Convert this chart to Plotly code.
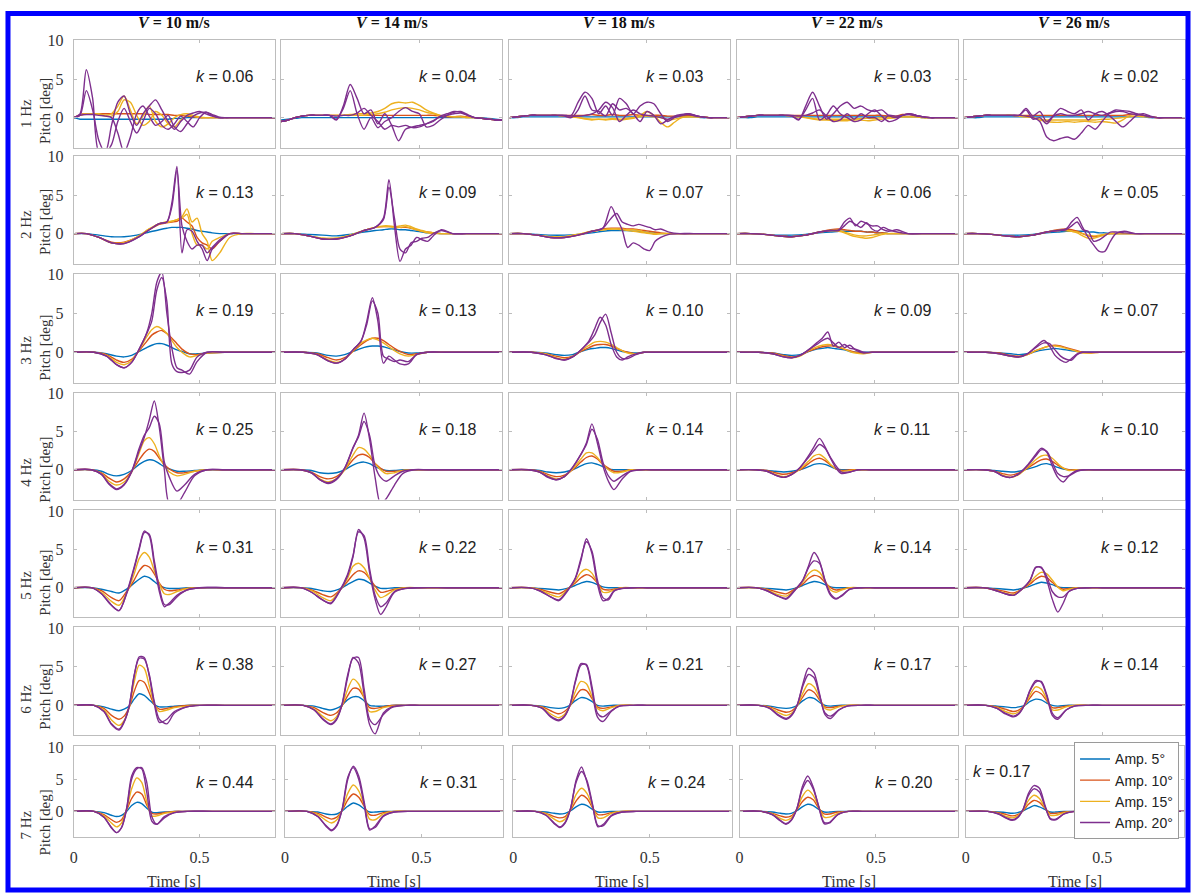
import plotly.graph_objects as go

# ---------------- data ----------------
velocities = ["10", "14", "18", "22", "26"]
frequencies = ["1 Hz", "2 Hz", "3 Hz", "4 Hz", "5 Hz", "6 Hz", "7 Hz"]
k_values = [
    ["0.06", "0.04", "0.03", "0.03", "0.02"],
    ["0.13", "0.09", "0.07", "0.06", "0.05"],
    ["0.19", "0.13", "0.10", "0.09", "0.07"],
    ["0.25", "0.18", "0.14", "0.11", "0.10"],
    ["0.31", "0.22", "0.17", "0.14", "0.12"],
    ["0.38", "0.27", "0.21", "0.17", "0.14"],
    ["0.44", "0.31", "0.24", "0.20", "0.17"],
]
x_tick_vals = [0, 0.5]
x_tick_text = ["0", "0.5"]
y_tick_vals = [0, 5, 10]
y_tick_text = ["0", "5", "10"]

# time grids [s] for each frequency row
T1 = [0, 0.025, 0.05, 0.075, 0.1, 0.125, 0.15, 0.175, 0.2, 0.225, 0.25, 0.275, 0.3, 0.325, 0.35, 0.375, 0.4,
      0.425, 0.45, 0.475, 0.5, 0.525, 0.55, 0.575, 0.6, 0.625, 0.65, 0.675, 0.7, 0.725, 0.75, 0.775, 0.8]
T2 = [0, 0.05, 0.1, 0.15, 0.2, 0.25, 0.3, 0.34, 0.37, 0.39, 0.41, 0.43, 0.45, 0.47, 0.49, 0.51, 0.53, 0.55,
      0.58, 0.62, 0.67, 0.72, 0.8]
T3 = [0, 0.08, 0.13, 0.17, 0.2, 0.23, 0.26, 0.29, 0.31, 0.33, 0.35, 0.37, 0.39, 0.41, 0.43, 0.46, 0.49, 0.53, 0.6, 0.8]
T4 = [0, 0.07, 0.11, 0.14, 0.17, 0.2, 0.23, 0.26, 0.28, 0.3, 0.32, 0.34, 0.36, 0.38, 0.41, 0.44, 0.48, 0.53, 0.6, 0.8]
T5 = [0, 0.07, 0.11, 0.15, 0.18, 0.21, 0.24, 0.26, 0.28, 0.3, 0.32, 0.34, 0.36, 0.38, 0.41, 0.45, 0.5, 0.6, 0.8]
T6 = [0, 0.08, 0.12, 0.15, 0.18, 0.2, 0.22, 0.24, 0.26, 0.28, 0.3, 0.32, 0.34, 0.37, 0.4, 0.45, 0.5, 0.6, 0.8]
T7 = [0, 0.08, 0.12, 0.15, 0.17, 0.19, 0.21, 0.23, 0.25, 0.27, 0.29, 0.31, 0.33, 0.36, 0.4, 0.45, 0.55, 0.8]

# ---- 1 Hz (one list per velocity column) ----
r1_amp5 = [
    [0, -0.2, -0.2, -0.2, -0.2, -0.2, -0.2, -0.2, -0.2, -0.2, -0.2, -0.2, -0.2, -0.2, -0.2, -0.2, -0.1, -0.1, 0, 0, 0, 0, 0, 0, 0, 0, 0, 0, 0, 0, 0, 0, 0],
    [-0.3, -0.2, -0.1, 0, 0, 0, 0, 0, 0, 0, 0, 0, 0, 0, 0, 0, 0, 0, 0, 0, 0, 0, 0, 0, 0, 0, 0, 0, 0, 0, -0.1, -0.2, -0.3],
    [0, 0, 0.1, 0.1, 0.1, 0.1, 0.1, 0.1, 0.1, 0.1, 0.1, 0.1, 0.1, 0.1, 0.1, 0.1, 0.1, 0.1, 0.1, 0.1, 0.1, 0.1, 0.1, 0.1, 0.1, 0.1, 0.1, 0.1, 0, 0, 0, 0, 0],
    [0, 0, 0, 0.1, 0.1, 0.1, 0.1, 0.1, 0.1, 0.1, 0.1, 0.1, 0.1, 0.1, 0.1, 0.1, 0.1, 0.1, 0.1, 0.1, 0.1, 0.1, 0.1, 0.1, 0.1, 0.1, 0.1, 0, 0, 0, 0, 0, 0],
    [0, 0, 0, 0.1, 0.1, 0.1, 0.1, 0.1, 0.1, 0.1, 0.1, 0.1, 0.1, 0.1, 0.1, 0.1, 0.1, 0.1, 0.1, 0.1, 0.1, 0.1, 0.1, 0.1, 0.1, 0.1, 0.1, 0, 0, 0, 0, 0, 0],
]
r1_amp10 = [
    [0, 0.4, 0.5, 0.5, 0.5, 0.5, 0.5, 0.5, 0.5, 0.5, 0.5, 0.5, 0.4, 0.4, 0.4, 0.4, 0.3, 0.3, 0.2, 0.1, 0, 0, 0, 0, 0, 0, 0, 0, 0, 0, 0, 0, 0],
    [-0.5, -0.3, 0, 0.2, 0.3, 0.3, 0.3, 0.3, 0.3, 0.3, 0.3, 0.3, 0.3, 0.3, 0.3, 0.3, 0.3, 0.3, 0.3, 0.3, 0.3, 0.3, 0.3, 0.2, 0.1, 0.1, 0.2, 0.1, 0, -0.1, -0.2, -0.3, -0.3],
    [0, 0.1, 0.2, 0.3, 0.3, 0.3, 0.3, 0.3, 0.3, 0.3, 0.3, 0.3, 0.4, 0.3, 0.3, 0.4, 0.3, 0.3, 0.4, 0.3, 0.3, 0.3, 0.3, 0.2, 0.2, 0.2, 0.3, 0.2, 0.1, 0, 0, 0, 0],
    [0, 0.1, 0.2, 0.3, 0.3, 0.3, 0.3, 0.3, 0.3, 0.3, 0.3, 0.3, 0.3, 0.3, 0.3, 0.3, 0.3, 0.3, 0.3, 0.3, 0.3, 0.3, 0.2, 0.2, 0.4, 0.4, 0.2, 0.1, 0, 0, 0, 0, 0],
    [0, 0.1, 0.2, 0.3, 0.3, 0.3, 0.3, 0.3, 0.3, 0.3, 0.3, 0.3, 0.3, 0.3, 0.3, 0.3, 0.3, 0.3, 0.3, 0.3, 0.3, 0.3, 0.3, 0.3, 0.4, 0.4, 0.3, 0.1, 0, 0, 0, 0, 0],
]
r1_amp15a = [
    [0, 0.3, 0.5, 0.5, 0.5, 0.3, 0.5, 1.5, 2.8, 1.0, -0.8, 0.2, 1.5, -0.5, -1.2, -0.8, 0, 0.4, 0.5, 0.3, 0.1, 0, 0, 0, 0, 0, 0, 0, 0, 0, 0, 0, 0],
    [-0.5, -0.3, 0, 0.2, 0.3, 0.3, 0.3, 0.3, 0.3, 0.3, 0.4, 0.5, 0.5, 0.6, 0.8, 1.2, 1.8, 2.0, 1.9, 2.0, 1.6, 1.0, 0.6, 0.3, 0.2, 0.1, 0.1, 0, 0, -0.1, -0.2, -0.3, -0.3],
    [0, 0.1, 0.2, 0.3, 0.3, 0.3, 0.3, 0.3, 0.2, 0.1, 0, -0.2, -0.3, -0.2, -0.3, -0.2, -0.3, -0.2, -0.1, 0.3, 0.8, 0.3, -0.6, -1.2, -0.6, 0, 0.1, 0.1, 0.1, 0, 0, 0, 0],
    [0, 0.1, 0.2, 0.3, 0.3, 0.3, 0.3, 0.3, 0.2, 0.1, 0, -0.2, -0.3, -0.3, -0.4, -0.4, -0.4, -0.3, -0.3, -0.4, -0.3, -0.2, -0.1, 0, 0.1, 0.1, 0.1, 0, 0, 0, 0, 0, 0],
    [0, 0.1, 0.2, 0.3, 0.3, 0.3, 0.3, 0.3, 0.2, 0.1, 0, -0.3, -0.5, -0.6, -0.6, -0.5, -0.6, -0.5, -0.5, -0.6, -0.5, -0.6, -0.7, -0.3, 0.3, 0.4, 0.2, 0.1, 0, 0, 0, 0, 0],
]
r1_amp15b = [
    [0, 0.3, 0.5, 0.5, 0.4, 0.2, 0.2, 0.8, 2.3, 2.0, 0.3, -1.0, -0.5, 0.8, 0.3, -0.8, -1.2, -0.3, 0.3, 0.2, 0, 0, 0, 0, 0, 0, 0, 0, 0, 0, 0, 0, 0],
    [-0.5, -0.3, 0, 0.2, 0.3, 0.3, 0.3, 0.3, 0.3, 0.3, 0.3, 0.3, 0.3, 0.4, 0.5, 0.7, 1.0, 1.2, 1.3, 1.2, 1.0, 0.7, 0.5, 0.3, 0.2, 0.1, 0.1, 0, 0, -0.1, -0.2, -0.3, -0.3],
    [0, 0.1, 0.2, 0.3, 0.3, 0.3, 0.3, 0.3, 0.2, 0.1, 0, -0.1, -0.2, -0.2, -0.2, -0.1, -0.2, -0.1, 0, 0.1, 0.2, 0.1, 0, -0.3, -0.2, 0, 0.1, 0.1, 0.1, 0, 0, 0, 0],
    [0, 0.1, 0.2, 0.3, 0.3, 0.3, 0.3, 0.3, 0.2, 0.1, 0, -0.1, -0.2, -0.2, -0.2, -0.2, -0.2, -0.2, -0.1, -0.1, -0.1, 0, 0, 0, 0.1, 0.1, 0.1, 0, 0, 0, 0, 0, 0],
    [0, 0.1, 0.2, 0.3, 0.3, 0.3, 0.3, 0.3, 0.2, 0.1, 0, -0.2, -0.3, -0.3, -0.3, -0.3, -0.3, -0.3, -0.3, -0.3, -0.2, -0.2, -0.1, 0, 0.1, 0.2, 0.1, 0.1, 0, 0, 0, 0, 0],
]
r1_amp20a = [
    [0, 0.5, 6.2, 2.5, -4.5, -4.5, -1.0, 2.0, 2.8, 0.5, -1.0, 0.5, 1.5, 2.3, 1.0, -0.5, -1.5, -0.5, 0.3, 0.6, 0.8, 0.5, 0.2, 0, 0, 0, 0, 0, 0, 0, 0, 0, 0],
    [-0.5, -0.3, 0, 0.2, 0.3, 0.3, 0.3, 0.3, -0.3, 1.5, 4.3, 2.5, 0.5, 1.0, -0.8, 0.5, -1.0, -3.0, -1.5, -1.2, -1.0, -0.8, -0.5, 0.2, 0.5, 0.8, 0.7, 0.3, 0, -0.1, -0.2, -0.3, -0.3],
    [0, 0.1, 0.2, 0.3, 0.3, 0.3, 0.3, 0.3, 0.3, 0.3, 2.0, 3.3, 2.5, 0.5, 1.5, 0.3, 2.5, 1.8, 0.5, 1.5, 2.0, 1.8, 0.5, -0.5, 0, 0.3, 0.5, 0.3, 0.1, 0, 0, 0, 0],
    [0, 0.1, 0.2, 0.3, 0.3, 0.3, 0.3, 0.3, 0.2, -0.3, 1.5, 3.3, 1.5, -0.2, 0.5, 1.5, 2.0, 1.2, 1.5, 1.0, 0.8, 1.0, 0.3, 0, 0.3, 0.5, 0.3, 0.1, 0, 0, 0, 0, 0],
    [0, 0.1, 0.2, 0.3, 0.3, 0.3, 0.3, 0.3, 0.3, 0.2, 0, -0.5, -2.5, -3.0, -2.7, -2.5, -2.8, -2.0, -1.0, -1.5, -0.5, 0.5, 0.8, 0.8, 0.5, 0.4, 0.3, 0.1, 0, 0, 0, 0, 0],
]
r1_amp20b = [
    [0, 0.3, 3.5, 1.0, -3.0, -4.5, -3.5, -0.5, 1.2, -0.5, -2.0, -0.5, 1.2, 0.5, -1.0, -1.5, -0.8, 0.2, -0.5, -1.2, 0, 0.7, 0.4, 0.1, 0, 0, 0, 0, 0, 0, 0, 0, 0],
    [-0.5, -0.3, 0, 0.2, 0.3, 0.3, 0.3, 0.3, -0.2, 1.2, 3.5, 0.5, -1.5, 0, -1.3, -0.5, 0, 0.8, 1.3, 0.8, 0.5, -1.2, -1.0, -0.3, 0.3, 0.7, 0.8, 0.4, 0, -0.1, -0.2, -0.3, -0.3],
    [0, 0.1, 0.2, 0.3, 0.3, 0.3, 0.3, 0.3, 0.2, 0, 1.0, 2.8, 1.0, 0.8, 0.2, 1.8, 1.0, 1.2, 0.5, -0.5, 0.8, 0.3, -0.8, -0.3, 0.2, 0.4, 0.5, 0.3, 0.1, 0, 0, 0, 0],
    [0, 0.1, 0.2, 0.3, 0.3, 0.3, 0.3, 0.3, 0.2, -0.2, 1.0, 2.5, -0.3, 0.3, 1.5, 0.5, 0, -0.5, -0.3, 0.5, 1.0, 0.2, -0.5, -0.3, 0.3, 0.5, 0.3, 0.1, 0, 0, 0, 0, 0],
    [0, 0.1, 0.2, 0.3, 0.3, 0.3, 0.3, 0.3, 0.3, 1.2, 0.2, 0.8, -0.5, 0.3, 1.2, 0.8, 0.5, 1.0, -0.3, 0.5, 0.8, 0.3, -0.5, -1.2, -0.5, 0.3, 0.5, 0.2, 0, 0, 0, 0, 0],
]
r1_amp20c = [
    [0, 0.3, 0.4, 0.4, 0.3, 0.2, 0.0, -2.0, -4.5, -2.5, 0.5, 1.5, 0.2, -1.0, -0.5, 0.3, -1.2, -1.8, -0.8, 0.2, 0.6, 0.7, 0.3, 0, 0, 0, 0, 0, 0, 0, 0, 0, 0],
    [-0.5, -0.3, 0, 0.2, 0.3, 0.3, 0.3, 0.3, 0.2, 0.3, 0.3, 0.6, 1.2, 0.3, -0.5, -1.5, -1.0, -1.2, -1.0, -1.3, -1.2, -0.8, -0.4, 0.1, 0.3, 0.5, 0.6, 0.3, 0, -0.1, -0.2, -0.3, -0.3],
    [0, 0.1, 0.2, 0.3, 0.3, 0.3, 0.3, 0.3, 0.3, 0.2, 0.2, 0.3, 0.5, 1.0, 2.0, 1.3, -0.5, 0.3, 1.0, 0.5, 0.3, 0.2, 0, -0.2, 0.1, 0.3, 0.4, 0.2, 0.1, 0, 0, 0, 0],
    [0, 0.1, 0.2, 0.3, 0.3, 0.3, 0.3, 0.3, 0.3, 0.2, 0.3, 0.6, 1.0, 0.2, -0.5, -0.3, 0.5, -0.2, 0.5, 0, 0, -0.5, 0.3, 0.2, 0.3, 0.4, 0.2, 0.1, 0, 0, 0, 0, 0],
    [0, 0.1, 0.2, 0.3, 0.3, 0.3, 0.3, 0.3, 0.3, 1.0, -0.2, 0, -0.8, 0.2, 0.5, 0.3, 0.3, 0.5, 0.8, 0.5, 0.3, 0.6, 1.0, 0.9, 0.8, 0.5, 0.3, 0.1, 0, 0, 0, 0, 0],
]

# ---- 2 Hz ----
r2_amp5 = [
    [0, 0, -0.2, -0.4, -0.4, -0.2, 0.2, 0.5, 0.7, 0.8, 0.8, 0.8, 0.7, 0.6, 0.4, 0.3, 0.2, 0.1, 0, 0, 0, 0, 0],
    [0, 0, -0.1, -0.2, -0.3, -0.1, 0.2, 0.4, 0.5, 0.6, 0.6, 0.5, 0.5, 0.4, 0.3, 0.2, 0.1, 0.1, 0, 0, 0, 0, 0],
    [0, 0, -0.1, -0.2, -0.2, -0.1, 0.1, 0.3, 0.4, 0.4, 0.4, 0.4, 0.3, 0.3, 0.2, 0.1, 0.1, 0, 0, 0, 0, 0, 0],
    [0, 0, -0.1, -0.2, -0.2, -0.1, 0.1, 0.2, 0.3, 0.3, 0.3, 0.3, 0.3, 0.2, 0.2, 0.1, 0.1, 0, 0, 0, 0, 0, 0],
    [0, 0, -0.1, -0.2, -0.2, -0.1, 0.1, 0.2, 0.3, 0.3, 0.3, 0.3, 0.2, 0.2, 0.1, 0.1, 0, 0, 0, 0, 0, 0, 0],
]
r2_amp10 = [
    [0, 0, -0.5, -1.1, -1.1, -0.5, 0.5, 1.2, 1.4, 1.5, 1.6, 2.0, 1.5, 1.0, -0.5, -1.2, -1.5, -2.0, -1.0, 0, 0, 0, 0],
    [0, 0, -0.3, -0.7, -0.7, -0.3, 0.4, 0.8, 0.9, 0.9, 0.9, 0.8, 0.8, 0.7, 0.5, 0.3, 0.2, 0.1, 0, 0, 0, 0, 0],
    [0, 0, -0.2, -0.5, -0.5, -0.2, 0.3, 0.6, 0.7, 0.7, 0.7, 0.6, 0.6, 0.5, 0.4, 0.3, 0.2, 0.1, 0, 0, 0, 0, 0],
    [0, 0, -0.1, -0.3, -0.4, -0.2, 0.2, 0.5, 0.6, 0.5, 0.4, 0.3, 0.3, 0.2, 0.2, 0.1, 0.1, 0, 0, 0, 0, 0, 0],
    [0, 0, -0.1, -0.3, -0.4, -0.2, 0.2, 0.5, 0.6, 0.5, 0.3, 0, -0.3, -0.4, -0.3, -0.1, 0, 0, 0, 0, 0, 0, 0],
]
r2_amp15a = [
    [0, 0, -0.5, -1.2, -1.2, -0.5, 0.6, 1.3, 1.5, 1.6, 1.8, 2.2, 3.2, 1.5, 2.0, 0, -1.0, -3.5, -2.5, -0.5, 0, 0, 0],
    [0, 0, -0.3, -0.6, -0.6, -0.2, 0.4, 0.8, 1.0, 1.0, 0.9, 1.0, 1.1, 0.9, 0.6, 0.4, 0.2, 0.1, 0, 0, 0, 0, 0],
    [0, 0, -0.2, -0.4, -0.4, -0.1, 0.3, 0.5, 0.6, 0.6, 0.5, 0.4, 0.3, 0.2, 0.1, 0, -0.1, 0, 0, 0, 0, 0, 0],
    [0, 0, -0.1, -0.3, -0.4, -0.2, 0.2, 0.4, 0.3, 0.1, -0.2, -0.4, -0.5, -0.6, -0.5, -0.3, -0.1, 0, 0, 0, 0, 0, 0],
    [0, 0, -0.1, -0.3, -0.4, -0.2, 0.2, 0.4, 0.4, 0.3, 0.1, -0.3, -0.6, -0.6, -0.4, -0.2, 0, 0, 0, 0, 0, 0, 0],
]
r2_amp15b = [
    [0, 0, -0.5, -1.2, -1.2, -0.5, 0.6, 1.3, 1.5, 1.6, 1.8, 2.0, 2.5, 0.0, -1.5, -1.5, -2.0, -1.0, -0.5, 0, 0, 0, 0],
    [0, 0, -0.3, -0.6, -0.6, -0.2, 0.4, 0.8, 0.9, 0.9, 0.8, 0.8, 0.9, 0.7, 0.5, 0.3, 0.1, 0, 0, 0, 0, 0, 0],
    [0, 0, -0.2, -0.4, -0.4, -0.1, 0.3, 0.5, 0.6, 0.6, 0.6, 0.5, 0.5, 0.4, 0.2, 0.1, 0, 0, 0, 0, 0, 0, 0],
    [0, 0, -0.1, -0.3, -0.4, -0.2, 0.2, 0.4, 0.4, 0.2, 0, -0.2, -0.3, -0.3, -0.2, -0.1, 0, 0, 0, 0, 0, 0, 0],
    [0, 0, -0.1, -0.3, -0.4, -0.2, 0.2, 0.4, 0.4, 0.3, 0.2, 0, -0.2, -0.3, -0.2, -0.1, 0, 0, 0, 0, 0, 0, 0],
]
r2_amp20a = [
    [0, 0, -0.5, -1.2, -1.3, -0.6, 0.5, 1.3, 1.5, 4.0, 8.7, -2.5, 0.5, 0.3, -1.0, -2.0, -3.5, -2.0, -1.0, 0, 0, 0, 0],
    [0, 0, -0.3, -0.7, -0.7, -0.3, 0.4, 0.8, 2.0, 7.0, 1.0, -3.6, -2.0, -1.5, -0.5, -0.8, -1.0, -0.3, 0.5, 0, 0, 0, 0],
    [0, 0, -0.2, -0.5, -0.5, -0.2, 0.3, 0.7, 3.5, 2.0, 0.5, -1.8, -1.2, -1.5, -2.0, -2.2, -1.0, -0.5, -0.1, 0, 0, 0, 0],
    [0, 0, -0.1, -0.3, -0.4, -0.2, 0.2, 0.4, 0.5, 1.5, 2.0, 1.0, 1.6, 1.3, 1.0, 1.0, 0.5, 0.3, 0.5, 0, 0, 0, 0],
    [0, 0, -0.1, -0.3, -0.4, -0.2, 0.2, 0.4, 0.6, 1.5, 2.1, 0.8, -0.5, -1.5, -2.3, -2.3, -1.0, 0, 0.3, 0, 0, 0, 0],
]
r2_amp20b = [
    [0, 0, -0.5, -1.2, -1.3, -0.6, 0.5, 1.3, 1.5, 3.5, 8.2, 1.0, -1.0, -2.0, -1.5, -1.5, -2.5, -1.8, -0.8, 0, 0, 0, 0],
    [0, 0, -0.3, -0.7, -0.7, -0.3, 0.4, 0.8, 1.8, 6.0, 2.0, -2.0, -2.5, -1.2, -1.0, -0.6, -0.5, 0, 0.4, 0, 0, 0, 0],
    [0, 0, -0.2, -0.5, -0.5, -0.2, 0.3, 0.7, 2.0, 2.6, 1.5, 1.2, 1.0, 1.2, 1.0, 0.8, 0.5, 0.6, 0.2, 0, 0, 0, 0],
    [0, 0, -0.1, -0.3, -0.4, -0.2, 0.2, 0.4, 0.4, 1.0, 1.6, 1.2, 0.8, 1.4, 0.6, 0.3, 0.8, 0.5, 0.2, 0, 0, 0, 0],
    [0, 0, -0.1, -0.3, -0.4, -0.2, 0.2, 0.4, 0.5, 1.0, 1.5, 0.5, 0.3, -1.0, -0.8, -0.3, 0.2, 0.2, 0.1, 0, 0, 0, 0],
]

# ---- 3 Hz ----
r3_amp5 = [
    [0, 0, -0.2, -0.5, -0.6, -0.4, 0.1, 0.6, 0.9, 1.1, 1.1, 0.9, 0.6, 0.3, 0.1, -0.2, -0.2, -0.1, 0, 0],
    [0, 0, -0.1, -0.4, -0.5, -0.3, 0.1, 0.5, 0.7, 0.8, 0.8, 0.7, 0.5, 0.3, 0.1, -0.1, -0.1, 0, 0, 0],
    [0, 0, -0.1, -0.3, -0.4, -0.3, 0.1, 0.4, 0.5, 0.6, 0.6, 0.5, 0.3, 0.1, 0, -0.1, 0, 0, 0, 0],
    [0, 0, -0.1, -0.3, -0.4, -0.3, 0.1, 0.4, 0.5, 0.6, 0.5, 0.4, 0.3, 0.1, 0, 0, 0, 0, 0, 0],
    [0, 0, -0.1, -0.2, -0.3, -0.2, 0.1, 0.3, 0.4, 0.5, 0.4, 0.3, 0.2, 0.1, 0, 0, 0, 0, 0, 0],
]
r3_amp10 = [
    [0, 0, -0.3, -1.0, -1.3, -0.9, 0.2, 1.4, 2.2, 2.6, 2.8, 2.4, 1.8, 1.1, 0.4, -0.2, -0.3, -0.1, 0, 0],
    [0, 0, -0.2, -0.7, -1.0, -0.7, 0.1, 1.0, 1.5, 1.8, 1.8, 1.5, 1.0, 0.5, 0.1, -0.3, -0.2, 0, 0, 0],
    [0, 0, -0.2, -0.5, -0.7, -0.5, 0.1, 0.6, 0.9, 1.0, 1.0, 0.8, 0.5, 0.2, 0, -0.2, 0, 0, 0, 0],
    [0, 0, -0.1, -0.4, -0.6, -0.4, 0.1, 0.5, 0.7, 0.8, 0.8, 0.6, 0.4, 0.2, 0, -0.1, 0, 0, 0, 0],
    [0, 0, -0.1, -0.4, -0.5, -0.3, 0.2, 0.6, 0.8, 0.9, 0.8, 0.6, 0.4, 0.2, 0, -0.1, 0, 0, 0, 0],
]
r3_amp15 = [
    [0, 0, -0.4, -1.3, -1.6, -1.1, 0.3, 2.0, 2.9, 3.3, 3.0, 2.4, 1.5, 0.6, 0, -0.6, -0.4, -0.1, 0, 0],
    [0, 0, -0.3, -1.0, -1.3, -0.9, 0.2, 1.2, 1.6, 1.8, 1.6, 1.2, 0.7, 0.2, -0.2, -0.5, -0.3, 0, 0, 0],
    [0, 0, -0.2, -0.7, -0.9, -0.6, 0.2, 0.9, 1.3, 1.4, 1.3, 1.0, 0.6, 0.2, -0.1, -0.2, 0, 0, 0, 0],
    [0, 0, -0.2, -0.5, -0.7, -0.5, 0.2, 0.7, 0.9, 1.0, 0.9, 0.7, 0.4, 0.1, -0.1, -0.2, 0, 0, 0, 0],
    [0, 0, -0.2, -0.5, -0.6, -0.3, 0.2, 0.6, 0.8, 0.8, 0.7, 0.5, 0.3, 0.1, -0.1, -0.1, 0, 0, 0, 0],
]
r3_amp20a = [
    [0, 0, -0.5, -1.6, -2.0, -1.3, 0.4, 2.5, 5.0, 9.0, 10.3, 5.0, 0.5, -2.0, -2.3, -2.8, -1.2, 0, 0, 0],
    [0, 0, -0.3, -1.1, -1.4, -0.9, 0.3, 1.5, 4.0, 7.0, 4.0, -1.4, -0.5, -1.0, -1.5, -1.5, -0.3, 0, 0, 0],
    [0, 0, -0.3, -0.8, -1.0, -0.6, 0.3, 1.5, 3.0, 4.5, 3.5, 1.0, -0.6, -1.0, -0.6, -0.2, 0, 0, 0, 0],
    [0, 0, -0.2, -0.6, -0.7, -0.4, 0.3, 1.2, 1.8, 2.6, 0.8, 1.3, 0.6, 0.9, 0.3, -0.1, 0, 0, 0, 0],
    [0, 0, -0.2, -0.5, -0.6, -0.2, 0.7, 1.5, 0.8, -0.4, -1.0, -1.3, -0.8, -0.2, 0, 0, 0, 0, 0, 0],
]
r3_amp20b = [
    [0, 0, -0.5, -1.6, -2.0, -1.3, 0.4, 2.4, 4.0, 8.0, 9.6, 6.5, -1.5, -2.5, -2.6, -2.3, -0.6, 0, 0, 0],
    [0, 0, -0.3, -1.1, -1.4, -0.9, 0.3, 1.5, 3.6, 6.6, 5.0, -0.5, -0.9, -1.2, -1.0, -1.2, -0.3, 0, 0, 0],
    [0, 0, -0.3, -0.8, -1.0, -0.6, 0.3, 1.3, 2.2, 3.8, 4.9, 2.5, 0, -0.8, -0.8, -0.3, 0, 0, 0, 0],
    [0, 0, -0.2, -0.6, -0.7, -0.4, 0.3, 1.0, 1.5, 1.8, 1.2, 0.6, 1.0, 0.5, 0.4, 0, 0, 0, 0, 0],
    [0, 0, -0.2, -0.5, -0.6, -0.2, 0.6, 1.2, 1.1, 0.3, -0.5, -0.9, -1.0, -0.3, 0, 0, 0, 0, 0, 0],
]

# ---- 4 Hz ----
r4_amp5 = [
    [0, 0, -0.2, -0.6, -0.8, -0.6, -0.1, 0.7, 1.1, 1.3, 1.2, 0.8, 0.4, 0.1, -0.2, -0.2, -0.1, 0, 0, 0],
    [0, 0, -0.1, -0.4, -0.5, -0.4, 0, 0.6, 0.9, 1.0, 0.8, 0.4, 0.1, -0.1, -0.1, 0, 0, 0, 0, 0],
    [0, 0, -0.1, -0.3, -0.4, -0.3, 0, 0.5, 0.8, 0.9, 0.7, 0.4, 0.1, 0, 0, 0, 0, 0, 0, 0],
    [0, 0, -0.1, -0.2, -0.3, -0.2, 0, 0.4, 0.7, 0.8, 0.7, 0.4, 0.1, 0, 0, 0, 0, 0, 0, 0],
    [0, 0, -0.1, -0.2, -0.3, -0.2, 0.1, 0.4, 0.7, 0.8, 0.6, 0.3, 0.1, 0, 0, 0, 0, 0, 0, 0],
]
r4_amp10 = [
    [0, 0, -0.4, -1.1, -1.6, -1.2, -0.2, 1.3, 2.2, 2.7, 2.4, 1.5, 0.7, 0.1, -0.4, -0.4, -0.2, 0, 0, 0],
    [0, 0, -0.3, -0.9, -1.2, -0.9, 0, 1.3, 1.9, 2.0, 1.6, 0.8, 0.2, -0.2, -0.2, -0.1, 0, 0, 0, 0],
    [0, 0, -0.2, -0.6, -0.9, -0.7, 0, 1.0, 1.6, 1.8, 1.4, 0.7, 0.2, -0.2, -0.2, 0, 0, 0, 0, 0],
    [0, 0, -0.1, -0.4, -0.6, -0.4, 0, 0.8, 1.3, 1.5, 1.2, 0.6, 0.1, -0.1, 0, 0, 0, 0, 0, 0],
    [0, 0, -0.2, -0.5, -0.7, -0.4, 0.2, 0.9, 1.3, 1.4, 1.1, 0.6, 0.2, 0, 0, 0, 0, 0, 0, 0],
]
r4_amp15 = [
    [0, 0, -0.5, -1.5, -2.0, -1.6, -0.3, 2.2, 3.8, 4.2, 3.4, 1.8, 0.5, -0.3, -0.8, -0.6, -0.2, 0, 0, 0],
    [0, 0, -0.4, -1.2, -1.6, -1.2, 0, 1.9, 2.9, 2.7, 1.9, 0.8, 0, -0.5, -0.4, -0.1, 0, 0, 0, 0],
    [0, 0, -0.3, -0.8, -1.2, -0.9, 0.1, 1.4, 2.2, 2.2, 1.6, 0.7, 0, -0.4, -0.3, 0, 0, 0, 0, 0],
    [0, 0, -0.2, -0.6, -0.9, -0.6, 0.1, 1.1, 1.8, 2.0, 1.5, 0.7, 0.1, -0.2, -0.1, 0, 0, 0, 0, 0],
    [0, 0, -0.2, -0.7, -1.0, -0.6, 0.3, 1.3, 1.8, 1.9, 1.5, 0.8, 0.2, -0.1, 0, 0, 0, 0, 0, 0],
]
r4_amp20a = [
    [0, 0, -0.6, -1.9, -2.6, -2.0, -0.3, 2.5, 4.2, 6.5, 9.0, 5.5, 0.0, -4.5, -4.5, -3.0, -0.8, 0, 0, 0],
    [0, 0, -0.4, -1.3, -1.8, -1.3, 0.2, 2.8, 4.5, 7.4, 4.0, -1.0, -4.5, -3.8, -2.0, -0.5, 0, 0, 0, 0],
    [0, 0, -0.3, -1.0, -1.3, -0.9, 0.3, 2.0, 3.5, 6.0, 3.5, 0.5, -1.5, -2.6, -1.2, -0.2, 0, 0, 0, 0],
    [0, 0, -0.2, -0.7, -1.0, -0.6, 0.3, 1.8, 3.0, 4.1, 3.0, 1.5, 0.2, -0.5, -0.3, 0, 0, 0, 0, 0],
    [0, 0, -0.2, -0.8, -1.0, -0.5, 0.6, 2.0, 2.8, 2.3, 0.5, -1.0, -1.6, -0.8, -0.1, 0, 0, 0, 0, 0],
]
r4_amp20b = [
    [0, 0, -0.6, -1.8, -2.5, -1.9, -0.2, 2.8, 4.5, 5.5, 7.0, 6.0, 1.0, -1.0, -2.8, -2.0, -0.6, 0, 0, 0],
    [0, 0, -0.4, -1.3, -1.7, -1.2, 0.2, 2.9, 4.3, 6.3, 4.5, 0.5, -1.0, -1.5, -0.8, -0.2, 0, 0, 0, 0],
    [0, 0, -0.3, -0.9, -1.3, -0.9, 0.3, 2.0, 3.3, 5.3, 4.0, 1.0, -0.8, -1.5, -0.8, -0.2, 0, 0, 0, 0],
    [0, 0, -0.2, -0.7, -1.0, -0.6, 0.3, 1.6, 2.5, 3.3, 2.8, 1.6, 0.5, -0.3, -0.3, 0, 0, 0, 0, 0],
    [0, 0, -0.2, -0.8, -1.0, -0.5, 0.5, 1.8, 2.6, 2.4, 1.0, -0.5, -0.9, -0.8, -0.2, 0, 0, 0, 0, 0],
]

# ---- 5 Hz ----
r5_amp5 = [
    [0, 0, -0.2, -0.5, -0.7, -0.2, 0.6, 1.1, 1.5, 1.3, 0.8, 0.3, 0, -0.1, -0.1, 0, 0, 0, 0],
    [0, 0, -0.1, -0.4, -0.5, -0.2, 0.4, 0.8, 1.1, 1.0, 0.6, 0.2, -0.1, -0.1, 0, 0, 0, 0, 0],
    [0, 0, -0.1, -0.2, -0.3, -0.1, 0.3, 0.6, 0.8, 0.7, 0.4, 0.1, 0, 0, 0, 0, 0, 0, 0],
    [0, 0, -0.1, -0.2, -0.3, -0.1, 0.3, 0.6, 0.8, 0.7, 0.4, 0.1, 0, 0, 0, 0, 0, 0, 0],
    [0, 0, -0.1, -0.2, -0.3, -0.1, 0.2, 0.5, 0.7, 0.6, 0.4, 0.1, 0, 0, 0, 0, 0, 0, 0],
]
r5_amp10 = [
    [0, 0, -0.4, -1.3, -1.7, -0.5, 1.0, 2.2, 2.9, 2.7, 1.8, 0.6, -0.2, -0.4, -0.3, -0.1, 0, 0, 0],
    [0, 0, -0.3, -0.9, -1.2, -0.4, 0.8, 1.7, 2.2, 2.0, 1.2, 0.2, -0.6, -0.5, -0.2, 0, 0, 0, 0],
    [0, 0, -0.2, -0.6, -0.8, -0.2, 0.6, 1.3, 1.7, 1.4, 0.6, -0.2, -0.3, -0.2, 0, 0, 0, 0, 0],
    [0, 0, -0.2, -0.6, -0.8, -0.2, 0.5, 1.2, 1.6, 1.4, 0.7, 0, -0.3, -0.2, 0, 0, 0, 0, 0],
    [0, 0, -0.2, -0.5, -0.7, -0.2, 0.5, 1.1, 1.5, 1.3, 0.7, 0.1, -0.2, -0.1, 0, 0, 0, 0, 0],
]
r5_amp15 = [
    [0, 0, -0.6, -1.8, -2.3, -0.7, 1.8, 3.8, 4.6, 4.0, 2.2, 0.5, -0.8, -0.9, -0.5, -0.1, 0, 0, 0],
    [0, 0, -0.4, -1.3, -1.7, -0.5, 1.2, 2.8, 3.2, 2.6, 1.2, -0.3, -1.3, -1.0, -0.3, 0, 0, 0, 0],
    [0, 0, -0.3, -0.9, -1.2, -0.3, 0.9, 2.0, 2.4, 1.9, 0.6, -0.6, -0.6, -0.3, 0, 0, 0, 0, 0],
    [0, 0, -0.3, -0.9, -1.1, -0.3, 0.8, 1.8, 2.3, 2.0, 0.9, -0.3, -0.6, -0.3, 0, 0, 0, 0, 0],
    [0, 0, -0.3, -0.7, -0.9, -0.2, 0.7, 1.5, 2.0, 1.8, 1.0, 0.1, -0.4, -0.2, 0, 0, 0, 0, 0],
]
r5_amp20a = [
    [0, 0, -0.8, -2.3, -3.0, -0.8, 2.5, 5.0, 7.2, 7.0, 3.5, 0.0, -2.2, -2.2, -1.2, -0.3, 0, 0, 0],
    [0, 0, -0.6, -1.6, -2.1, -0.6, 1.5, 4.0, 7.6, 6.5, 2.0, -1.5, -3.5, -2.5, -0.6, -0.1, 0, 0, 0],
    [0, 0, -0.4, -1.2, -1.7, -0.5, 1.2, 3.5, 6.4, 4.5, 0.5, -1.7, -1.4, -0.4, -0.1, 0, 0, 0, 0],
    [0, 0, -0.4, -1.1, -1.5, -0.4, 1.0, 2.8, 4.6, 3.5, 0.8, -1.0, -1.5, -1.0, -0.2, 0, 0, 0, 0],
    [0, 0, -0.3, -0.8, -1.0, -0.2, 1.0, 2.6, 2.7, 1.0, -1.5, -3.2, -2.0, -0.5, -0.1, 0, 0, 0, 0],
]
r5_amp20b = [
    [0, 0, -0.8, -2.3, -3.0, -0.7, 2.7, 5.2, 7.4, 6.8, 3.0, -0.5, -2.5, -2.0, -1.0, -0.3, 0, 0, 0],
    [0, 0, -0.6, -1.6, -2.0, -0.5, 1.7, 4.2, 7.3, 6.8, 2.5, -1.0, -2.5, -2.0, -0.5, -0.1, 0, 0, 0],
    [0, 0, -0.4, -1.2, -1.6, -0.4, 1.3, 3.8, 6.0, 4.8, 1.0, -1.3, -1.6, -0.5, -0.1, 0, 0, 0, 0],
    [0, 0, -0.4, -1.1, -1.4, -0.3, 1.0, 2.6, 3.5, 3.2, 1.0, -0.8, -1.4, -1.1, -0.2, 0, 0, 0, 0],
    [0, 0, -0.3, -0.8, -1.0, -0.2, 1.0, 2.7, 2.6, 1.5, -0.5, -1.2, -1.2, -0.5, -0.1, 0, 0, 0, 0],
]

# ---- 6 Hz ----
r6_amp5 = [
    [0, 0, -0.2, -0.5, -0.7, -0.5, -0.1, 0.8, 1.5, 1.3, 0.7, 0.1, -0.2, -0.2, -0.1, 0, 0, 0, 0],
    [0, 0, -0.1, -0.4, -0.6, -0.4, 0, 0.7, 1.1, 1.1, 0.6, 0, -0.1, -0.1, 0, 0, 0, 0, 0],
    [0, 0, -0.1, -0.3, -0.4, -0.3, 0, 0.6, 1.0, 0.9, 0.5, 0, -0.1, 0, 0, 0, 0, 0, 0],
    [0, 0, -0.1, -0.3, -0.4, -0.3, 0, 0.6, 1.0, 0.9, 0.4, 0, -0.1, 0, 0, 0, 0, 0, 0],
    [0, 0, -0.1, -0.2, -0.3, -0.2, 0, 0.5, 0.8, 0.7, 0.3, 0, -0.1, 0, 0, 0, 0, 0, 0],
]
r6_amp10 = [
    [0, 0, -0.4, -1.3, -1.8, -1.4, -0.3, 1.8, 3.2, 3.0, 1.6, 0.1, -0.5, -0.4, -0.2, 0, 0, 0, 0],
    [0, 0, -0.3, -0.9, -1.3, -1.0, -0.1, 1.2, 2.2, 2.1, 1.0, -0.3, -0.4, -0.2, 0, 0, 0, 0, 0],
    [0, 0, -0.2, -0.7, -1.1, -0.8, -0.1, 1.1, 2.0, 1.9, 0.9, -0.2, -0.4, -0.2, 0, 0, 0, 0, 0],
    [0, 0, -0.2, -0.6, -0.9, -0.7, 0, 1.1, 2.0, 1.7, 0.7, -0.2, -0.3, -0.1, 0, 0, 0, 0, 0],
    [0, 0, -0.2, -0.5, -0.8, -0.6, 0, 1.0, 1.8, 1.5, 0.6, -0.3, -0.3, -0.1, 0, 0, 0, 0, 0],
]
r6_amp15 = [
    [0, 0, -0.6, -1.9, -2.6, -2.0, -0.3, 3.0, 5.2, 4.8, 2.5, 0.2, -0.8, -0.6, -0.3, -0.1, 0, 0, 0],
    [0, 0, -0.5, -1.4, -2.0, -1.5, -0.1, 2.0, 3.4, 2.8, 1.0, -0.8, -0.8, -0.3, -0.1, 0, 0, 0, 0],
    [0, 0, -0.3, -1.1, -1.6, -1.2, -0.1, 1.8, 3.1, 2.8, 1.2, -0.4, -0.7, -0.3, 0, 0, 0, 0, 0],
    [0, 0, -0.3, -0.9, -1.3, -1.0, 0, 1.6, 2.8, 2.4, 1.0, -0.4, -0.6, -0.2, 0, 0, 0, 0, 0],
    [0, 0, -0.3, -0.8, -1.1, -0.8, 0, 1.4, 2.4, 2.1, 0.8, -0.6, -0.6, -0.2, 0, 0, 0, 0, 0],
]
r6_amp20a = [
    [0, 0, -0.8, -2.5, -3.2, -2.2, -0.2, 3.8, 6.3, 6.2, 3.8, 0.2, -2.2, -1.8, -0.8, -0.2, 0, 0, 0],
    [0, 0, -0.6, -1.8, -2.5, -1.9, 0, 3.5, 6.2, 5.5, 1.5, -2.5, -3.7, -1.0, -0.2, 0, 0, 0, 0],
    [0, 0, -0.4, -1.5, -2.0, -1.5, 0, 3.2, 5.4, 5.2, 2.0, -1.5, -2.1, -0.8, -0.1, 0, 0, 0, 0],
    [0, 0, -0.4, -1.3, -1.8, -1.3, 0.1, 2.8, 4.8, 4.2, 1.5, -1.2, -1.7, -0.6, -0.1, 0, 0, 0, 0],
    [0, 0, -0.4, -1.1, -1.5, -1.1, 0.1, 2.0, 3.2, 3.0, 1.2, -1.3, -1.8, -0.6, -0.1, 0, 0, 0, 0],
]
r6_amp20b = [
    [0, 0, -0.8, -2.4, -3.1, -2.1, -0.1, 3.9, 6.1, 6.0, 4.0, 0.5, -1.8, -2.4, -1.0, -0.2, 0, 0, 0],
    [0, 0, -0.6, -1.7, -2.4, -1.8, 0.1, 3.8, 6.1, 6.2, 2.2, -1.8, -2.5, -1.2, -0.3, 0, 0, 0, 0],
    [0, 0, -0.4, -1.4, -1.9, -1.4, 0, 3.0, 5.2, 5.3, 2.5, -1.0, -1.5, -0.7, -0.1, 0, 0, 0, 0],
    [0, 0, -0.4, -1.2, -1.7, -1.2, 0.1, 2.5, 4.0, 3.6, 1.3, -1.0, -1.4, -0.6, -0.1, 0, 0, 0, 0],
    [0, 0, -0.4, -1.0, -1.4, -1.0, 0.1, 1.9, 3.0, 3.1, 1.4, -1.0, -1.6, -0.6, -0.1, 0, 0, 0, 0],
]

# ---- 7 Hz ----
r7_amp5 = [
    [0, 0, -0.2, -0.6, -0.8, -0.6, 0.0, 0.9, 1.4, 1.2, 0.5, -0.1, -0.2, -0.1, 0, 0, 0, 0],
    [0, 0, -0.1, -0.4, -0.5, -0.4, 0.1, 0.8, 1.3, 1.0, 0.4, -0.1, -0.1, 0, 0, 0, 0, 0],
    [0, 0, -0.1, -0.3, -0.4, -0.3, 0.1, 0.7, 1.1, 0.9, 0.3, -0.1, -0.1, 0, 0, 0, 0, 0],
    [0, 0, -0.1, -0.3, -0.4, -0.3, 0.1, 0.7, 1.1, 0.9, 0.3, -0.1, -0.1, 0, 0, 0, 0, 0],
    [0, 0, -0.1, -0.2, -0.3, -0.2, 0.1, 0.5, 0.9, 0.7, 0.3, -0.1, -0.1, 0, 0, 0, 0, 0],
]
r7_amp10 = [
    [0, 0, -0.5, -1.3, -1.7, -1.3, 0.2, 2.0, 3.0, 2.7, 1.0, -0.3, -0.4, -0.2, 0, 0, 0, 0],
    [0, 0, -0.3, -0.9, -1.2, -0.9, 0.2, 1.8, 2.7, 2.2, 0.8, -0.5, -0.6, -0.2, 0, 0, 0, 0],
    [0, 0, -0.3, -0.8, -1.0, -0.8, 0.2, 1.6, 2.5, 2.0, 0.6, -0.5, -0.5, -0.2, 0, 0, 0, 0],
    [0, 0, -0.3, -0.7, -0.9, -0.7, 0.2, 1.5, 2.2, 1.8, 0.5, -0.4, -0.4, -0.1, 0, 0, 0, 0],
    [0, 0, -0.2, -0.5, -0.7, -0.5, 0.1, 1.1, 1.7, 1.4, 0.5, -0.3, -0.3, -0.1, 0, 0, 0, 0],
]
r7_amp15 = [
    [0, 0, -0.7, -1.8, -2.4, -1.8, 0.3, 3.5, 5.2, 4.5, 1.5, -0.7, -0.7, -0.3, -0.1, 0, 0, 0],
    [0, 0, -0.5, -1.4, -1.8, -1.3, 0.3, 2.8, 4.1, 3.2, 1.0, -1.2, -1.3, -0.4, 0, 0, 0, 0],
    [0, 0, -0.4, -1.2, -1.6, -1.2, 0.3, 2.6, 3.6, 2.8, 0.8, -1.0, -1.0, -0.3, 0, 0, 0, 0],
    [0, 0, -0.4, -1.1, -1.4, -1.0, 0.3, 2.3, 3.3, 2.5, 0.7, -0.9, -0.9, -0.3, 0, 0, 0, 0],
    [0, 0, -0.3, -0.8, -1.0, -0.7, 0.2, 1.7, 2.5, 2.0, 0.6, -0.6, -0.6, -0.2, 0, 0, 0, 0],
]
r7_amp20a = [
    [0, 0, -0.9, -2.6, -3.3, -2.5, 0.5, 5.5, 6.8, 6.6, 3.0, -1.5, -2.0, -0.8, -0.2, 0, 0, 0],
    [0, 0, -0.8, -2.3, -3.0, -2.2, 0.4, 5.0, 7.0, 5.5, 1.5, -2.7, -2.5, -0.8, -0.1, 0, 0, 0],
    [0, 0, -0.6, -1.9, -2.5, -1.8, 0.4, 4.8, 6.9, 4.5, 1.0, -2.4, -2.0, -0.6, -0.1, 0, 0, 0],
    [0, 0, -0.5, -1.5, -2.0, -1.4, 0.4, 3.8, 5.5, 3.8, 0.8, -1.9, -1.8, -0.5, 0, 0, 0, 0],
    [0, 0, -0.4, -1.1, -1.4, -1.0, 0.3, 2.8, 4.0, 3.6, 1.0, -1.2, -1.3, -0.4, 0, 0, 0, 0],
]
r7_amp20b = [
    [0, 0, -0.9, -2.5, -3.3, -2.5, 0.3, 5.0, 6.6, 6.8, 4.5, -0.8, -2.0, -1.0, -0.2, 0, 0, 0],
    [0, 0, -0.8, -2.2, -2.9, -2.1, 0.5, 5.3, 6.8, 5.0, 1.0, -2.9, -2.3, -0.7, -0.1, 0, 0, 0],
    [0, 0, -0.6, -1.8, -2.4, -1.7, 0.5, 4.5, 6.2, 4.8, 1.2, -2.2, -2.2, -0.7, -0.1, 0, 0, 0],
    [0, 0, -0.5, -1.4, -1.9, -1.3, 0.4, 3.4, 4.8, 3.5, 0.8, -1.7, -1.7, -0.5, 0, 0, 0, 0],
    [0, 0, -0.4, -1.0, -1.3, -0.9, 0.3, 2.5, 3.5, 3.0, 0.8, -1.1, -1.2, -0.4, 0, 0, 0, 0],
]

# ---------------- figure construction ----------------
A5, A10, A15, A20 = "Amp. 5°", "Amp. 10°", "Amp. 15°", "Amp. 20°"
COLORS = {A5: "#0072BD", A10: "#D95319", A15: "#EDB120", A20: "#7E2F8E"}

ROWS = [
    (T1, [(A5, r1_amp5), (A10, r1_amp10), (A15, r1_amp15a), (A15, r1_amp15b),
          (A20, r1_amp20a), (A20, r1_amp20b), (A20, r1_amp20c)]),
    (T2, [(A5, r2_amp5), (A10, r2_amp10), (A15, r2_amp15a), (A15, r2_amp15b),
          (A20, r2_amp20a), (A20, r2_amp20b)]),
    (T3, [(A5, r3_amp5), (A10, r3_amp10), (A15, r3_amp15), (A20, r3_amp20a), (A20, r3_amp20b)]),
    (T4, [(A5, r4_amp5), (A10, r4_amp10), (A15, r4_amp15), (A20, r4_amp20a), (A20, r4_amp20b)]),
    (T5, [(A5, r5_amp5), (A10, r5_amp10), (A15, r5_amp15), (A20, r5_amp20a), (A20, r5_amp20b)]),
    (T6, [(A5, r6_amp5), (A10, r6_amp10), (A15, r6_amp15), (A20, r6_amp20a), (A20, r6_amp20b)]),
    (T7, [(A5, r7_amp5), (A10, r7_amp10), (A15, r7_amp15), (A20, r7_amp20a), (A20, r7_amp20b)]),
]

W, H = 1191, 893
COL_PX = [(70, 272), (278, 500), (507, 728), (735, 957), (963, 1185)]
COL_PX_LAST = [(70, 272), (282, 501), (511, 730), (738, 957), (965, 1184)]
ROW_PX = [(32, 141), (149, 258), (268, 378), (388, 496), (507, 615), (625, 734), (745, 836)]
LABEL_Y = [106, 218, 345, 468, 582, 697, 824]
FRAME = "#bdbdbd"
SERIF = "Liberation Serif"
SANS = "Liberation Sans"


def fx(p):
    return p / W


def fy(p):
    return 1 - p / H


def note(x, y, text, font, xref="paper", yref="paper", angle=0):
    return dict(xref=xref, yref=yref, x=x, y=y, text=text, showarrow=False,
                xanchor="center", yanchor="middle", textangle=angle, font=font)


fig = go.Figure()
layout = {}
annotations = []
legend_done = set()
k_font = dict(family=SANS, size=16, color="#222222")
lab_font = dict(family=SERIF, size=15, color="#333333")

for r, (T, series) in enumerate(ROWS):
    cols = COL_PX_LAST if r == 6 else COL_PX
    top, bottom = ROW_PX[r]
    for c in range(5):
        n = r * 5 + c + 1
        xa = "x" if n == 1 else f"x{n}"
        ya = "y" if n == 1 else f"y{n}"
        for name, data in series:
            ys = data[c]
            assert len(ys) == len(T), (r, c, name, len(ys), len(T))
            show = (r == 6 and c == 4 and name not in legend_done)
            if show:
                legend_done.add(name)
            fig.add_trace(go.Scatter(
                x=T, y=ys, mode="lines", name=name, legendgroup=name, showlegend=show,
                line=dict(color=COLORS[name], width=1.4, shape="spline", smoothing=0.8),
                xaxis=xa, yaxis=ya, hoverinfo="skip"))
        left, right = cols[c]
        layout["xaxis" if n == 1 else f"xaxis{n}"] = dict(
            domain=[fx(left), fx(right)], range=[0, 0.8], anchor=ya,
            showgrid=False, zeroline=False, showline=True, linecolor=FRAME, linewidth=1,
            mirror="ticks", ticks="inside", ticklen=3, tickcolor=FRAME,
            tickvals=x_tick_vals, ticktext=x_tick_text, showticklabels=(r == 6),
            tickfont=dict(family=SERIF, size=16, color="#333333"), ticklabelstandoff=6)
        layout["yaxis" if n == 1 else f"yaxis{n}"] = dict(
            domain=[fy(bottom), fy(top)], range=[-3.9, 10.1], anchor=xa,
            showgrid=False, zeroline=False, showline=True, linecolor=FRAME, linewidth=1,
            mirror="ticks", ticks="inside", ticklen=3, tickcolor=FRAME,
            tickvals=y_tick_vals, ticktext=y_tick_text, showticklabels=(c == 0),
            tickfont=dict(family=SERIF, size=16, color="#333333"), ticklabelstandoff=6)
        ktext = f"<i>k</i> = {k_values[r][c]}"
        if r == 6 and c == 4:
            annotations.append(note(0.13, fy(770), ktext, k_font, xref=xa))
        else:
            annotations.append(note(0.6, fy(top + 37), ktext, k_font, xref=xa))
    annotations.append(note(fx(22), fy(LABEL_Y[r]), frequencies[r], lab_font, angle=-90))
    annotations.append(note(fx(41), fy(LABEL_Y[r] - 2), "Pitch [deg]", lab_font, angle=-90))

for c in range(5):
    left, right = COL_PX[c]
    annotations.append(note(fx((left + right) / 2), fy(15), f"<b><i>V</i> = {velocities[c]} m/s</b>",
                            dict(family=SERIF, size=16, color="#111111")))
    l7, r7 = COL_PX_LAST[c]
    annotations.append(note(fx((l7 + r7) / 2), fy(881), "Time [s]",
                            dict(family=SERIF, size=16, color="#333333")))

fig.update_layout(
    **layout,
    width=W, height=H, autosize=False,
    margin=dict(l=0, r=0, t=0, b=0),
    paper_bgcolor="white", plot_bgcolor="white",
    annotations=annotations,
    legend=dict(x=fx(1179), y=fy(741), xanchor="right", yanchor="top",
                bgcolor="white", bordercolor="#9a9a9a", borderwidth=1,
                font=dict(family=SANS, size=14, color="#222222"),
                itemwidth=30, tracegroupgap=0),
    shapes=[dict(type="rect", xref="paper", yref="paper",
                 x0=fx(4), x1=fx(1188), y0=fy(890), y1=fy(5.5),
                 line=dict(color="#0000FF", width=5), layer="above")],
)

fig.write_html("out.html",
               config={"displayModeBar": False},
               post_script="document.body.style.margin='0';document.body.style.padding='0';"
                           "document.body.style.overflow='hidden';")
